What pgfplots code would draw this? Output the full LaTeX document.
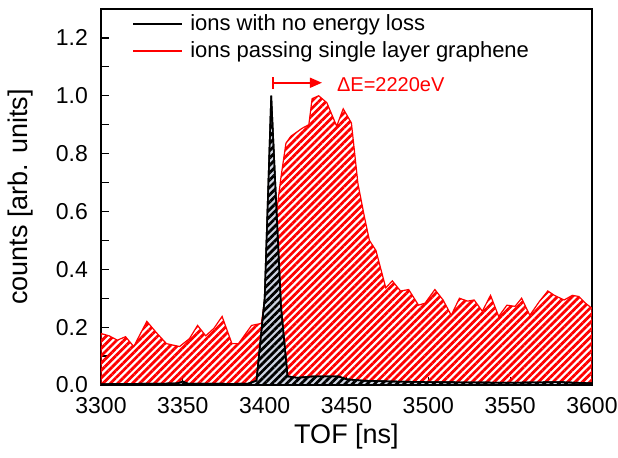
\documentclass[border=0pt]{standalone}
\usepackage{fontspec}
\setmainfont{Liberation Sans}
\usepackage{pgfplots}
\pgfplotsset{compat=1.18}
\usepackage{pgfplotstable}
\usetikzlibrary{patterns.meta,arrows.meta}
\definecolor{blgray}{RGB}{205,212,225}

\pgfplotstableread{
x y
3300 0.178
3305 0.170
3310 0.155
3315 0.167
3320 0.133
3328 0.220
3334 0.180
3340 0.143
3348 0.133
3354 0.160
3359 0.206
3364 0.170
3369 0.196
3374 0.237
3380 0.143
3384 0.143
3392 0.206
3398 0.213
3404 0.450
3410 0.720
3413 0.836
3416 0.860
3423 0.888
3427 0.900
3429 0.990
3433 1.000
3438 0.976
3444 0.895
3448 0.955
3453 0.906
3457 0.696
3461 0.580
3464 0.500
3468 0.465
3474 0.336
3478 0.360
3483 0.325
3488 0.330
3494 0.276
3498 0.283
3504 0.330
3509 0.294
3514 0.241
3519 0.300
3524 0.290
3528 0.294
3533 0.255
3538 0.310
3543 0.237
3548 0.276
3553 0.272
3557 0.300
3562 0.241
3568 0.290
3573 0.325
3577 0.310
3583 0.294
3588 0.310
3592 0.306
3596 0.283
3600 0.265
}\graphene

\pgfplotstableread{
x y
3300 0.003
3320 0.004
3340 0.005
3347 0.006
3350 0.012
3353 0.005
3380 0.004
3390 0.005
3395 0.015
3400 0.300
3404 1.000
3410 0.270
3414 0.030
3420 0.025
3430 0.030
3445 0.030
3450 0.020
3460 0.015
3480 0.012
3500 0.010
3550 0.008
3580 0.010
3600 0.006
}\noloss

\begin{document}
\begin{tikzpicture}
\begin{axis}[name=ax, scale only axis, width=245.5pt, height=188pt,
  xmin=3300, xmax=3600, ymin=0, ymax=1.3,
  xtick={3300,3350,3400,3450,3500,3550,3600},
  ytick={0,0.2,0.4,0.6,0.8,1.0,1.2},
  minor y tick num=1,
  tick align=inside, xtick pos=bottom, ytick pos=left,
  major tick length=4pt, minor tick length=4pt,
  axis line style={line width=0.8pt},
  every tick/.style={black, line width=0.6pt},
  /pgf/number format/assume math mode=true,
  xticklabel style={/pgf/number format/set thousands separator={}, font=\fontsize{11.5}{12}\selectfont, yshift=-2.5pt},
  yticklabel style={/pgf/number format/fixed, /pgf/number format/fixed zerofill, /pgf/number format/precision=1, font=\fontsize{11.5}{12}\selectfont, xshift=-3pt},
  xlabel={TOF [ns]}, ylabel={counts [arb. units]},
  label style={font=\fontsize{13.5}{16}\selectfont},
  xlabel style={at={(axis description cs:0.5,-0.138)}, anchor=center},
  ylabel style={at={(axis description cs:-0.163,0.5)}, anchor=center},
]
% legend samples (drawn first, as filled bars)
\fill[black] ([yshift=-0.5pt]axis description cs:0.065,0.959) rectangle ([yshift=0.5pt]axis description cs:0.165,0.959);
\fill[red] ([yshift=-0.5pt]axis description cs:0.065,0.887) rectangle ([yshift=0.5pt]axis description cs:0.165,0.887);
\node[anchor=base west, inner sep=0pt, font=\fontsize{11}{13}\selectfont]
  at (axis description cs:0.181,0.943) {ions with no energy loss};
\node[anchor=base west, inner sep=0pt, font=\fontsize{11}{13}\selectfont]
  at (axis description cs:0.181,0.871) {ions passing single layer graphene};

\addplot[red, line width=0.6pt,
  pattern={Lines[angle=45,distance=2.6pt,line width=1.4pt]}, pattern color=red]
  table[x=x,y=y] {\graphene} \closedcycle;
\addplot[black, line width=0.8pt, fill=blgray,
  postaction={pattern={Lines[angle=45,distance=2.6pt,line width=1.4pt]}, pattern color=black}]
  table[x=x,y=y] {\noloss} \closedcycle;

\draw[red, line width=0.8pt, {Bar[width=6pt]}-{Triangle[length=6pt,width=5pt]}]
  (axis cs:3404.5,1.045) -- (axis cs:3435,1.045);
\node[red, anchor=west, font=\fontsize{10}{12}\selectfont, inner sep=0pt]
  at (axis cs:3444,1.04) {ΔE=2220eV};
\end{axis}
\pgfresetboundingbox
\path (ax.south west) ++(-50.5pt,-36pt) rectangle ++(309pt,228.5pt);
\end{tikzpicture}
\end{document}
